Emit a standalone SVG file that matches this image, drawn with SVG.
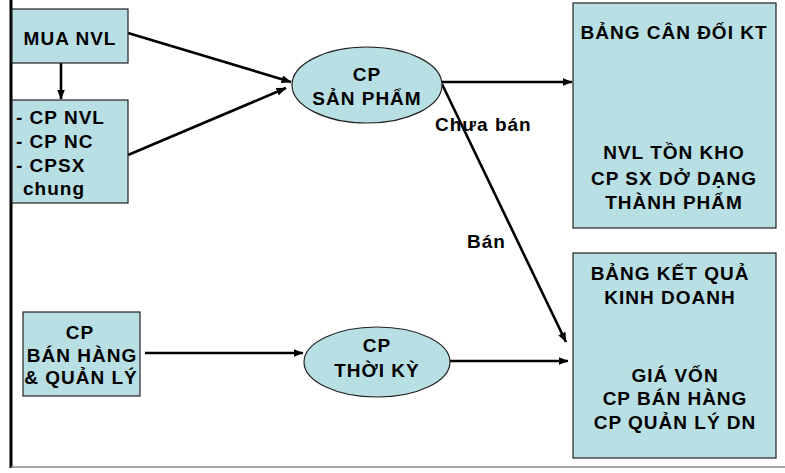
<svg xmlns="http://www.w3.org/2000/svg" width="785" height="473" viewBox="0 0 785 473">
<style>
.box{fill:#b8dfe3;stroke:#222;stroke-width:1.2}
.t{font-family:"Liberation Sans",Arial,sans-serif;font-weight:bold;font-size:19px;letter-spacing:1px;fill:#000}
.c{text-anchor:middle}
.ln{stroke:#000;stroke-width:2.6;fill:none}
</style>
<defs>
<marker id="ah" viewBox="0 0 10 8" refX="9.5" refY="4" markerWidth="10" markerHeight="8" markerUnits="userSpaceOnUse" orient="auto">
<path d="M0,0 L10,4 L0,8 z" fill="#000"/>
</marker>
</defs>
<rect width="785" height="473" fill="#fff"/>
<line x1="11" y1="0" x2="11" y2="468" stroke="#000" stroke-width="3"/>
<line x1="11" y1="467" x2="785" y2="467" stroke="#888" stroke-width="1.5"/>

<g id="connectors">
<line class="ln" x1="61" y1="63" x2="61" y2="99" marker-end="url(#ah)"/>
<line class="ln" x1="128" y1="33" x2="291" y2="82" marker-end="url(#ah)"/>
<line class="ln" x1="128" y1="155" x2="286" y2="88" marker-end="url(#ah)"/>
<line class="ln" x1="442" y1="82" x2="572" y2="82" marker-end="url(#ah)"/>
<line class="ln" x1="442" y1="84" x2="566" y2="342" marker-end="url(#ah)"/>
<line class="ln" x1="145" y1="353" x2="303" y2="353" marker-end="url(#ah)"/>
<line class="ln" x1="450" y1="361" x2="568" y2="361" marker-end="url(#ah)"/>
<text class="t" x="435" y="131">Chưa bán</text>
<text class="t" x="467" y="248">Bán</text>
</g>

<g id="mua-nvl">
<rect class="box" x="12" y="9" width="116" height="54"/>
<text class="t c" x="70" y="45">MUA NVL</text>
</g>

<g id="cp-list">
<rect class="box" x="12" y="100" width="116" height="103"/>
<text class="t" x="16" y="124">- CP NVL</text>
<text class="t" x="16" y="148">- CP NC</text>
<text class="t" x="16" y="172">- CPSX</text>
<text class="t" x="23" y="195">chung</text>
</g>

<g id="cp-san-pham">
<ellipse class="box" cx="367" cy="85" rx="75" ry="38"/>
<text class="t c" x="367" y="81">CP</text>
<text class="t c" x="367" y="105">SẢN PHẨM</text>
</g>

<g id="bang-can-doi">
<rect class="box" x="573" y="3" width="203" height="225"/>
<text class="t c" x="674" y="39">BẢNG CÂN ĐỐI KT</text>
<text class="t c" x="674" y="159">NVL TỒN KHO</text>
<text class="t c" x="674" y="185">CP SX DỞ DẠNG</text>
<text class="t c" x="674" y="209">THÀNH PHẨM</text>
</g>

<g id="cp-ban-hang">
<rect class="box" x="23" y="312" width="117" height="84"/>
<text class="t c" x="80" y="339">CP</text>
<text class="t c" x="82" y="362">BÁN HÀNG</text>
<text class="t c" x="81" y="384">&amp; QUẢN LÝ</text>
</g>

<g id="cp-thoi-ky">
<ellipse class="box" cx="377" cy="362" rx="73" ry="35"/>
<text class="t c" x="377" y="352">CP</text>
<text class="t c" x="377" y="377">THỜI KỲ</text>
</g>

<g id="bang-ket-qua">
<rect class="box" x="573" y="253" width="203" height="205"/>
<text class="t c" x="670" y="280">BẢNG KẾT QUẢ</text>
<text class="t c" x="670" y="304">KINH DOANH</text>
<text class="t c" x="675" y="382">GIÁ VỐN</text>
<text class="t c" x="675" y="405">CP BÁN HÀNG</text>
<text class="t c" x="675" y="429">CP QUẢN LÝ DN</text>
</g>
</svg>
